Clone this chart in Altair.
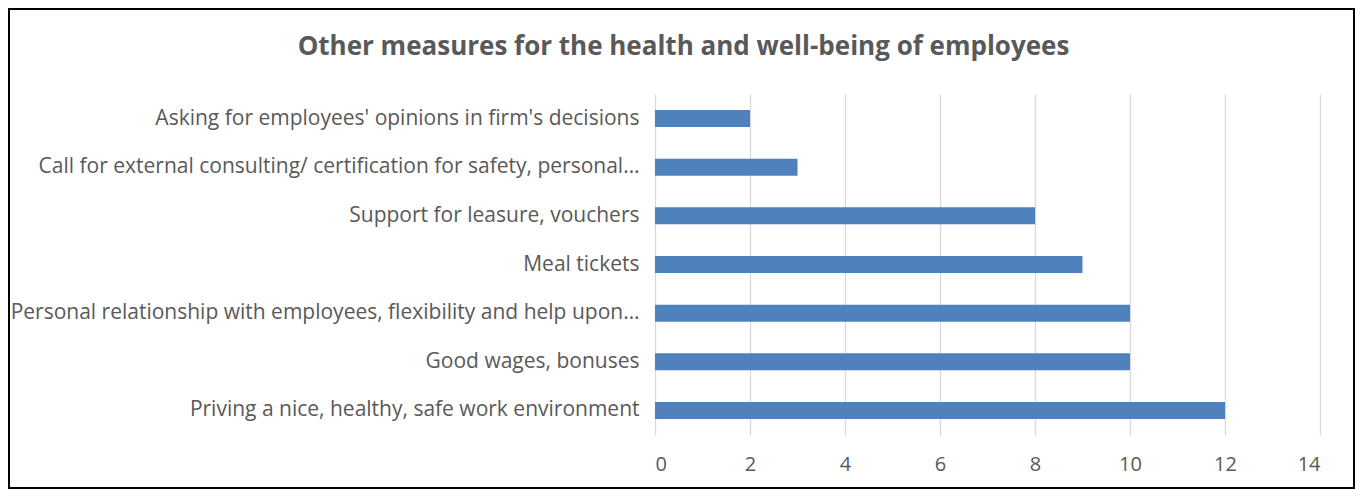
import altair as alt
import pandas as pd

categories = [
    "Asking for employees' opinions in firm's decisions",
    "Call for external consulting/ certification for safety, personal…",
    "Support for leasure, vouchers ",
    "Meal tickets",
    "Personal relationship with employees, flexibility and help upon…",
    "Good wages, bonuses ",
    "Priving a nice, healthy, safe work environment",
]
values = [2, 3, 8, 9, 10, 10, 12]
x_ticks = [0, 2, 4, 6, 8, 10, 12, 14]

df = pd.DataFrame({"measure": categories, "count": values})

W, H = 665, 341
PAD_L, PAD_T, PAD_R, PAD_B = 647, 86, 35, 54
FONT = "Open Sans"

bars = alt.Chart(df).mark_bar(color="#4f81bd").encode(
    x=alt.X("count:Q", scale=alt.Scale(domain=[0, 14], nice=False),
            axis=alt.Axis(values=x_ticks, title=None, domain=False, ticks=False,
                          labelFontSize=20, labelColor="#595959", labelPadding=19,
                          labelFont=FONT, gridColor="#d9d9d9", gridWidth=1.3)),
    y=alt.Y("measure:N", sort=categories,
            scale=alt.Scale(paddingInner=0.65, paddingOuter=0.33),
            axis=alt.Axis(title=None, domain=False, ticks=False, grid=False,
                          labelFontSize=21, labelColor="#595959", labelPadding=16,
                          labelFont=FONT, labelLimit=0)),
)

border = alt.Chart(df).mark_rect(fill=None, stroke="#000000", strokeWidth=2).encode(
    x=alt.value(-PAD_L + 1), x2=alt.value(W + PAD_R - 1),
    y=alt.value(-PAD_T + 1), y2=alt.value(H + PAD_B - 1),
)

chart = alt.layer(bars, border).properties(
    width=W, height=H,
    padding={"left": PAD_L, "top": PAD_T, "right": PAD_R, "bottom": PAD_B},
    autosize=alt.AutoSizeParams(type="none"),
    title=alt.TitleParams(
        "Other measures for the health and well-being of employees",
        fontSize=26, font=FONT, fontWeight="bold", color="#595959",
        anchor="middle", frame="group", dx=-304, offset=0, dy=52,
    ),
).configure_view(stroke=None)

chart.save("out.html", embed_options={"renderer": "svg", "actions": False})
